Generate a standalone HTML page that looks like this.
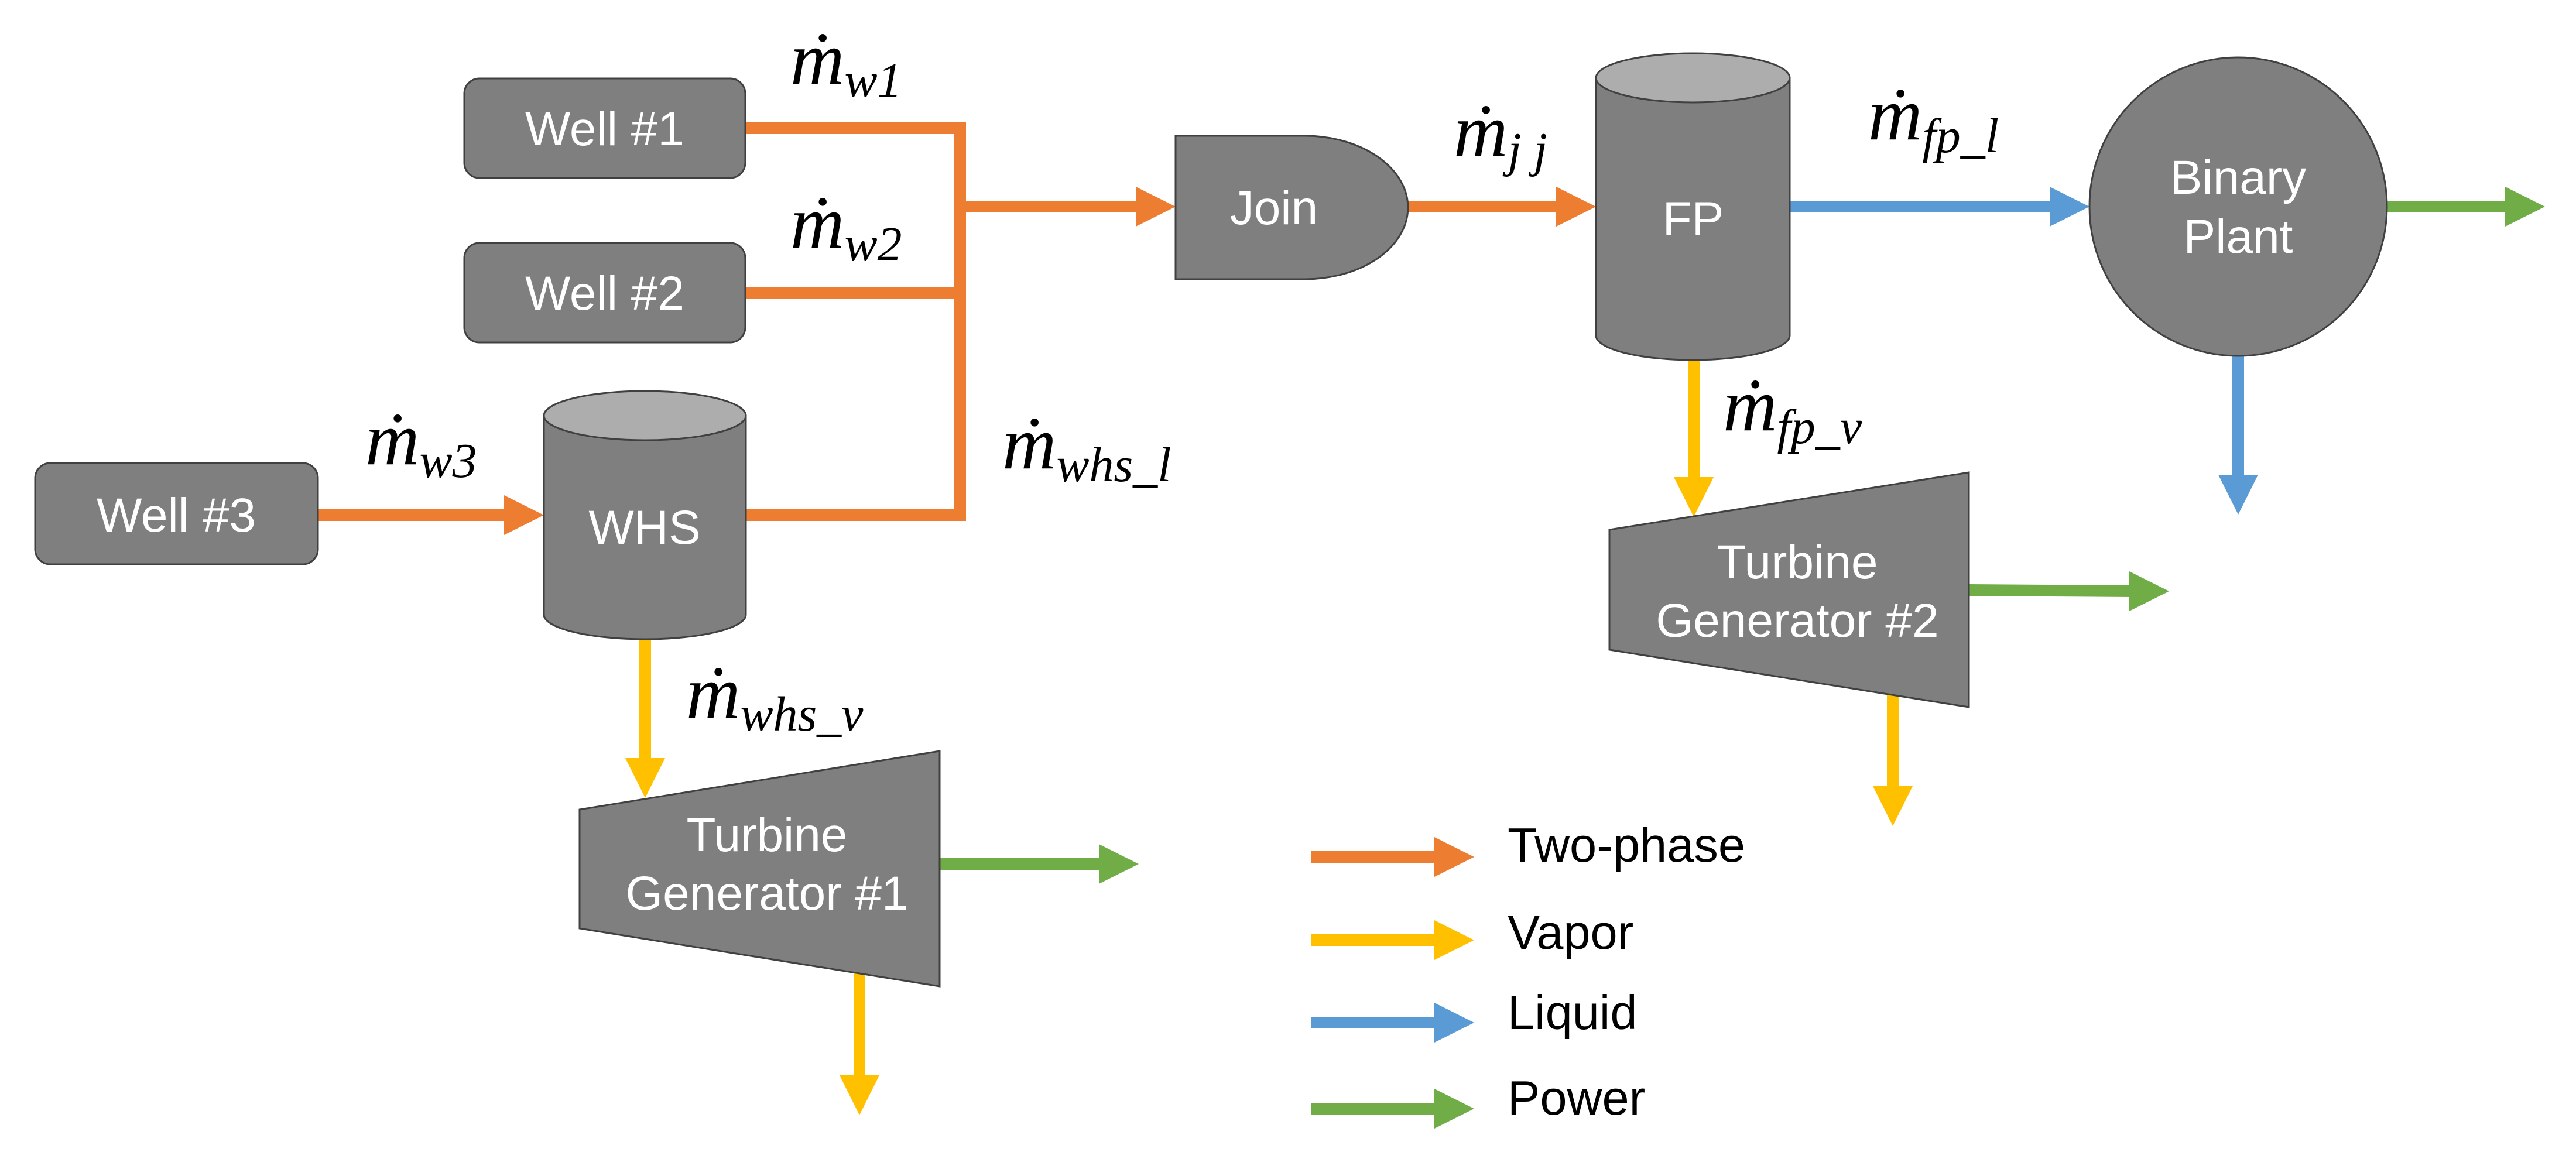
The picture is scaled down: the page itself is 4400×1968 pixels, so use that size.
<!DOCTYPE html>
<html><head><meta charset="utf-8"><style>html,body{margin:0;padding:0;background:#fff}svg{display:block}</style></head>
<body>
<svg width="4400" height="1968" viewBox="0 0 4400 1968" xmlns="http://www.w3.org/2000/svg">
<g font-family="Liberation Sans, sans-serif" >
<g stroke="#ED7D31" stroke-width="20" fill="none">
<polyline points="1273,219 1640,219 1640,880 1274,880"/>
<line x1="1273" y1="500" x2="1640" y2="500"/>
<line x1="1640" y1="353" x2="1945" y2="353"/>
<line x1="543" y1="880" x2="866" y2="880"/>
<line x1="2405" y1="353" x2="2662" y2="353"/>
</g>
<g fill="#ED7D31">
<polygon points="1940,319 2008,353 1940,387"/>
<polygon points="861,846 929,880 861,914"/>
<polygon points="2658,319 2726,353 2658,387"/>
</g>
<g stroke="#5B9BD5" stroke-width="20"><line x1="3057" y1="353" x2="3505" y2="353"/><line x1="3823" y1="600" x2="3823" y2="815"/></g>
<g fill="#5B9BD5"><polygon points="3501,319 3569,353 3501,387"/><polygon points="3789,811 3823,879 3857,811"/></g>
<g stroke="#70AD47" stroke-width="20"><line x1="4077" y1="353" x2="4283" y2="353"/><line x1="3363" y1="1008" x2="3641" y2="1010"/><line x1="1605" y1="1476" x2="1881" y2="1476"/></g>
<g fill="#70AD47"><polygon points="4279,319 4347,353 4279,387"/><polygon points="3637,976 3705,1010 3637,1044"/><polygon points="1877,1442 1945,1476 1877,1510"/></g>
<g stroke="#FFC000" stroke-width="20"><line x1="2893" y1="610" x2="2893" y2="820"/><line x1="3233" y1="1180" x2="3233" y2="1347"/><line x1="1102" y1="1085" x2="1102" y2="1300"/><line x1="1468" y1="1660" x2="1468" y2="1841"/></g>
<g fill="#FFC000"><polygon points="2859,815 2893,883 2927,815"/><polygon points="3199,1343 3233,1411 3267,1343"/><polygon points="1068,1295 1102,1363 1136,1295"/><polygon points="1434,1837 1468,1905 1502,1837"/></g>

<g fill="#7F7F7F" stroke="#404040" stroke-width="3">
<rect x="793" y="134" width="480" height="170" rx="26"/>
<rect x="793" y="415" width="480" height="170" rx="26"/>
<rect x="60" y="791" width="483" height="173" rx="26"/>
<path d="M929,710 L929,1050 A172.5,42 0 0 0 1274,1050 L1274,710 Z"/>
<ellipse cx="1101.5" cy="710" rx="172.5" ry="42" fill="#ADADAD"/>
<path d="M2726,133 L2726,573 A165.5,42 0 0 0 3057,573 L3057,133 Z"/>
<ellipse cx="2891.5" cy="133" rx="165.5" ry="42" fill="#ADADAD"/>
<path d="M2008,232 L2229,232 A176,122.5 0 0 1 2229,477 L2008,477 Z"/>
<ellipse cx="3823" cy="353" rx="254" ry="255"/>
<polygon points="2749,905 3363,807 3363,1208 2749,1110"/>
<polygon points="990,1383 1605,1283 1605,1685 990,1586"/>
</g>
<g fill="#fff" font-size="82" text-anchor="middle">
<text x="1033" y="248">Well #1</text>
<text x="1033" y="529">Well #2</text>
<text x="301" y="908">Well #3</text>
<text x="1101" y="929">WHS</text>
<text x="2176" y="383">Join</text>
<text x="2892" y="402">FP</text>
<text x="3823" y="331">Binary</text>
<text x="3823" y="432">Plant</text>
<text x="3070" y="988">Turbine</text>
<text x="3070" y="1088">Generator #2</text>
<text x="1310" y="1454">Turbine</text>
<text x="1310" y="1554">Generator #1</text>
</g>

<g font-family="Liberation Serif, serif" font-style="italic" font-size="128" fill="#000">
<text x="1350" y="143">ṁ<tspan font-size="84" dy="22">w1</tspan></text>
<text x="1350" y="423">ṁ<tspan font-size="84" dy="22">w2</tspan></text>
<text x="624" y="793">ṁ<tspan font-size="84" dy="22">w3</tspan></text>
<text x="1712" y="800">ṁ<tspan font-size="84" dy="22">whs_l</tspan></text>
<text x="1172" y="1226">ṁ<tspan font-size="84" dy="22">whs_v</tspan></text>
<text x="2483" y="266">ṁ<tspan font-size="84" dy="18">j j</tspan></text>
<text x="3191" y="238">ṁ<tspan font-size="84" dy="22">fp_l</tspan></text>
<text x="2943" y="735">ṁ<tspan font-size="84" dy="22">fp_v</tspan></text>
</g>

<g stroke-width="20">
<line x1="2240" y1="1464" x2="2454" y2="1464" stroke="#ED7D31"/>
<line x1="2240" y1="1606" x2="2454" y2="1606" stroke="#FFC000"/>
<line x1="2240" y1="1747" x2="2454" y2="1747" stroke="#5B9BD5"/>
<line x1="2240" y1="1894" x2="2454" y2="1894" stroke="#70AD47"/>
</g>
<polygon points="2450,1430 2518,1464 2450,1498" fill="#ED7D31"/>
<polygon points="2450,1572 2518,1606 2450,1640" fill="#FFC000"/>
<polygon points="2450,1713 2518,1747 2450,1781" fill="#5B9BD5"/>
<polygon points="2450,1860 2518,1894 2450,1928" fill="#70AD47"/>
<g font-size="83" fill="#000">
<text x="2575" y="1472">Two-phase</text>
<text x="2575" y="1621">Vapor</text>
<text x="2575" y="1758">Liquid</text>
<text x="2575" y="1904">Power</text>
</g>
</g>
</svg>
</body></html>
